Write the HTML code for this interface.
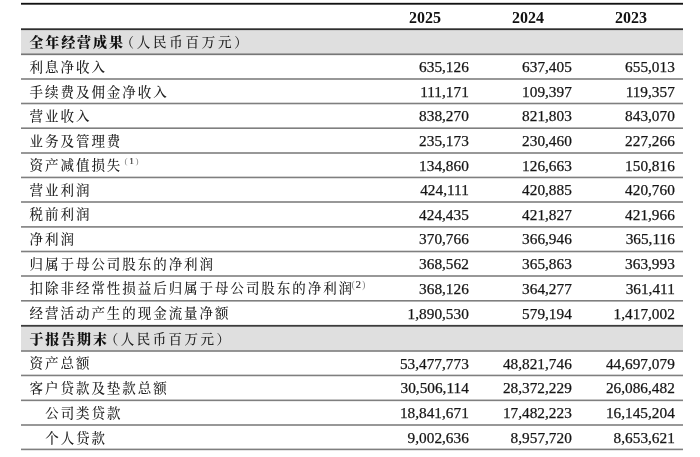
<!DOCTYPE html>
<html lang="zh-CN"><head><meta charset="utf-8"><title>主要财务数据</title>
<style>
html,body{margin:0;padding:0;background:#fff;}
body{width:700px;height:457px;position:relative;overflow:hidden;}
#w{position:absolute;left:0;top:0;width:700px;height:457px;filter:blur(0.4px);}
.t{position:absolute;white-space:nowrap;line-height:20px;height:20px;}
.cn{font-family:"Liberation Serif","Noto Serif CJK SC",serif;font-size:13.5px;letter-spacing:1.95px;color:#222;font-weight:500;}
.b{font-weight:900;color:#111;font-size:14px;letter-spacing:1.9px;}
.p{letter-spacing:2.45px;}
.n{font-family:"Liberation Serif","Noto Serif CJK SC",serif;font-size:15.3px;color:#151515;-webkit-text-stroke:0.25px #151515;text-align:right;width:120px;}
.y{font-family:"Liberation Serif",serif;font-size:16px;font-weight:700;color:#111;text-align:center;width:60px;}
.sp{font-family:"Liberation Serif",serif;font-size:9.2px;color:#333;letter-spacing:1.7px;-webkit-text-stroke:0.2px #333;}
.pp{color:#888;-webkit-text-stroke:0;}
</style></head><body><div id="w">

<svg width="700" height="457" viewBox="0 0 700 457" style="position:absolute;left:0;top:0">
<rect x="21" y="29.20" width="662" height="25.10" fill="#dfdfdf"/>
<rect x="21" y="325.80" width="662" height="25.20" fill="#dfdfdf"/>
<rect x="21" y="2.83" width="662" height="1.85" fill="#121212"/>
<rect x="21" y="28.30" width="662" height="1.8" fill="#2e2e2e"/>
<rect x="21" y="53.45" width="662" height="1.7" fill="#777"/>
<rect x="21" y="78.20" width="662" height="1.6" fill="#7f7f7f"/>
<rect x="21" y="102.70" width="662" height="1.6" fill="#7f7f7f"/>
<rect x="21" y="127.40" width="662" height="1.6" fill="#7f7f7f"/>
<rect x="21" y="152.20" width="662" height="1.6" fill="#7f7f7f"/>
<rect x="21" y="176.65" width="662" height="1.6" fill="#7f7f7f"/>
<rect x="21" y="201.20" width="662" height="1.6" fill="#7f7f7f"/>
<rect x="21" y="226.10" width="662" height="1.6" fill="#7f7f7f"/>
<rect x="21" y="250.70" width="662" height="1.6" fill="#7f7f7f"/>
<rect x="21" y="275.20" width="662" height="1.6" fill="#7f7f7f"/>
<rect x="21" y="300.00" width="662" height="1.6" fill="#7f7f7f"/>
<rect x="21" y="324.90" width="662" height="1.8" fill="#3c3c3c"/>
<rect x="21" y="350.15" width="662" height="1.7" fill="#858585"/>
<rect x="21" y="374.65" width="662" height="1.6" fill="#7f7f7f"/>
<rect x="21" y="399.55" width="662" height="1.6" fill="#7f7f7f"/>
<rect x="21" y="424.20" width="662" height="1.6" fill="#7f7f7f"/>
<rect x="21" y="448.60" width="662" height="1.6" fill="#7f7f7f"/>
</svg>
<div class="t y" style="left:395.00px;top:7.65px">2025</div>
<div class="t y" style="left:498.00px;top:7.65px">2024</div>
<div class="t y" style="left:601.00px;top:7.65px">2023</div>
<div class="t cn b" style="left:29.4px;top:33.15px">全年经营成果</div>
<div class="t cn p" style="left:120.5px;top:33.15px;letter-spacing:2.75px;">（人民币百万元）</div>
<div class="t cn" style="left:29.6px;top:58.05px">利息净收入</div>
<div class="t n" style="left:348.80px;top:57.35px">635,126</div>
<div class="t n" style="left:451.80px;top:57.35px">637,405</div>
<div class="t n" style="left:554.80px;top:57.35px">655,013</div>
<div class="t cn" style="left:29.6px;top:82.60px">手续费及佣金净收入</div>
<div class="t n" style="left:348.80px;top:81.90px">111,171</div>
<div class="t n" style="left:451.80px;top:81.90px">109,397</div>
<div class="t n" style="left:554.80px;top:81.90px">119,357</div>
<div class="t cn" style="left:29.6px;top:107.05px">营业收入</div>
<div class="t n" style="left:348.80px;top:106.35px">838,270</div>
<div class="t n" style="left:451.80px;top:106.35px">821,803</div>
<div class="t n" style="left:554.80px;top:106.35px">843,070</div>
<div class="t cn" style="left:29.6px;top:131.60px">业务及管理费</div>
<div class="t n" style="left:348.80px;top:130.90px">235,173</div>
<div class="t n" style="left:451.80px;top:130.90px">230,460</div>
<div class="t n" style="left:554.80px;top:130.90px">227,266</div>
<div class="t cn" style="left:29.6px;top:156.20px">资产减值损失</div>
<div class="t sp" style="left:124.5px;top:151.0px;"><span class="pp">(</span>1<span class="pp">)</span></div>
<div class="t n" style="left:348.80px;top:155.50px">134,860</div>
<div class="t n" style="left:451.80px;top:155.50px">126,663</div>
<div class="t n" style="left:554.80px;top:155.50px">150,816</div>
<div class="t cn" style="left:29.6px;top:180.80px">营业利润</div>
<div class="t n" style="left:348.80px;top:180.10px">424,111</div>
<div class="t n" style="left:451.80px;top:180.10px">420,885</div>
<div class="t n" style="left:554.80px;top:180.10px">420,760</div>
<div class="t cn" style="left:29.6px;top:205.45px">税前利润</div>
<div class="t n" style="left:348.80px;top:204.75px">424,435</div>
<div class="t n" style="left:451.80px;top:204.75px">421,827</div>
<div class="t n" style="left:554.80px;top:204.75px">421,966</div>
<div class="t cn" style="left:29.6px;top:230.05px">净利润</div>
<div class="t n" style="left:348.80px;top:229.35px">370,766</div>
<div class="t n" style="left:451.80px;top:229.35px">366,946</div>
<div class="t n" style="left:554.80px;top:229.35px">365,116</div>
<div class="t cn" style="left:29.6px;top:254.65px">归属于母公司股东的净利润</div>
<div class="t n" style="left:348.80px;top:253.95px">368,562</div>
<div class="t n" style="left:451.80px;top:253.95px">365,863</div>
<div class="t n" style="left:554.80px;top:253.95px">363,993</div>
<div class="t cn" style="left:29.6px;top:279.30px">扣除非经常性损益后归属于母公司股东的净利润</div>
<div class="t sp" style="left:351.4px;top:274.6px;font-size:10.3px;letter-spacing:1.0px;"><span class="pp">(</span>2<span class="pp">)</span></div>
<div class="t n" style="left:348.80px;top:278.60px">368,126</div>
<div class="t n" style="left:451.80px;top:278.60px">364,277</div>
<div class="t n" style="left:554.80px;top:278.60px">361,411</div>
<div class="t cn" style="left:29.6px;top:304.40px">经营活动产生的现金流量净额</div>
<div class="t n" style="left:348.80px;top:303.70px">1,890,530</div>
<div class="t n" style="left:451.80px;top:303.70px">579,194</div>
<div class="t n" style="left:554.80px;top:303.70px">1,417,002</div>
<div class="t cn b" style="left:29.4px;top:329.65px">于报告期末</div>
<div class="t cn p" style="left:104.8px;top:329.65px;">（人民币百万元）</div>
<div class="t cn" style="left:29.6px;top:354.30px">资产总额</div>
<div class="t n" style="left:348.80px;top:353.60px">53,477,773</div>
<div class="t n" style="left:451.80px;top:353.60px">48,821,746</div>
<div class="t n" style="left:554.80px;top:353.60px">44,697,079</div>
<div class="t cn" style="left:29.6px;top:379.05px">客户贷款及垫款总额</div>
<div class="t n" style="left:348.80px;top:378.35px">30,506,114</div>
<div class="t n" style="left:451.80px;top:378.35px">28,372,229</div>
<div class="t n" style="left:554.80px;top:378.35px">26,086,482</div>
<div class="t cn" style="left:45.2px;top:404.00px">公司类贷款</div>
<div class="t n" style="left:348.80px;top:403.30px">18,841,671</div>
<div class="t n" style="left:451.80px;top:403.30px">17,482,223</div>
<div class="t n" style="left:554.80px;top:403.30px">16,145,204</div>
<div class="t cn" style="left:45.2px;top:428.70px">个人贷款</div>
<div class="t n" style="left:348.80px;top:428.00px">9,002,636</div>
<div class="t n" style="left:451.80px;top:428.00px">8,957,720</div>
<div class="t n" style="left:554.80px;top:428.00px">8,653,621</div>
</div></body></html>
